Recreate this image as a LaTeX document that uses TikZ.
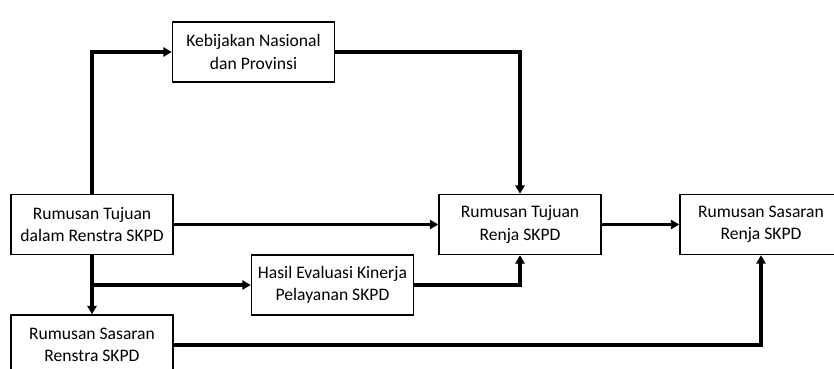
\documentclass[tikz,border=0pt]{standalone}
\usepackage{fontspec}
\setmainfont{Carlito}
\usetikzlibrary{arrows.meta,positioning}

\begin{document}
\begin{tikzpicture}[x=0.025cm,y=-0.025cm,
  kotak/.style={draw,line width=1pt,minimum width=4.05cm,minimum height=1.5cm,
    align=center,inner sep=2pt,font=\fontsize{12.5}{15.8}\selectfont},
  panah/.style={line width=2.3pt,-{Triangle[length=6pt,width=6.5pt]}}]
\useasboundingbox (0,0) rectangle (834,368);
\fill[white] (0,0) rectangle (834,368);

% Boxes
\node[kotak] (keb) at (253.5,52) {Kebijakan Nasional\\dan Provinsi};
\node[kotak] (tujrs) at (92,224.5) {Rumusan Tujuan\\dalam Renstra SKPD};
\node[kotak] (hasil) at (332.5,285) {Hasil Evaluasi Kinerja\\Pelayanan SKPD};
\node[kotak] (sasrs) at (92,345) {Rumusan Sasaran\\Renstra SKPD};
\node[kotak] (tujrj) at (520,224.5) {Rumusan Tujuan\\Renja SKPD};
\node[kotak] (sasrj) at (761,224.5) {Rumusan Sasaran\\Renja SKPD};

% Arrows
\draw[panah] (tujrs.north) |- (keb.west);
\draw[panah] (keb.east) -| (tujrj.north);
\draw[panah] (tujrs.east) -- (tujrj.west);
\draw[panah] (tujrs.south) -- (sasrs.north);
\draw[panah] (tujrs.south |- hasil.west) -- (hasil.west);
\draw[panah] (hasil.east) -| (tujrj.south);
\draw[panah] (tujrj.east) -- (sasrj.west);
\draw[panah] (sasrs.east) -| (sasrj.south);
\end{tikzpicture}
\end{document}
